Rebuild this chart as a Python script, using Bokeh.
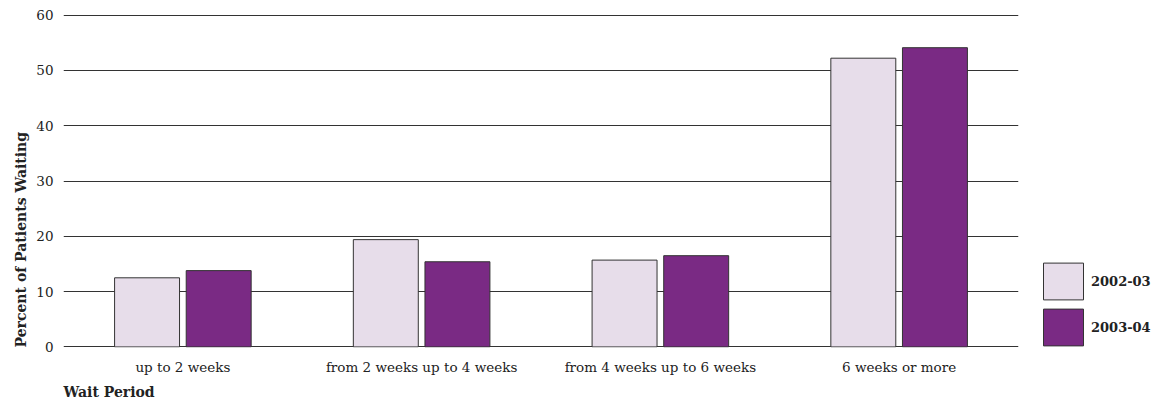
from bokeh.plotting import figure
from bokeh.models import (ColumnDataSource, FactorRange, Range1d, FixedTicker,
                          Legend, LegendItem, Title)
from bokeh.transform import dodge
from bokeh.embed import file_html
from bokeh.resources import INLINE

# Wait-time distribution, percent of patients
categories = ["up to 2 weeks", "from 2 weeks up to 4 weeks",
              "from 4 weeks up to 6 weeks", "6 weeks or more"]
pct_2002_03 = [12.5, 19.4, 15.7, 52.2]
pct_2003_04 = [13.8, 15.4, 16.5, 54.1]
series_names = ["2002-03", "2003-04"]
y_ticks = [0, 10, 20, 30, 40, 50, 60]

FONT = "DejaVu Serif"
LIGHT = "#E7DDEA"
DARK = "#7A2A84"
EDGE = "#333333"
INK = "#222222"

source = ColumnDataSource(data=dict(cat=categories, a=pct_2002_03, b=pct_2003_04))

p = figure(frame_width=955, frame_height=333,
           output_backend="svg", toolbar_location=None,
           x_range=FactorRange(*categories, range_padding=0),
           y_range=Range1d(-0.1, 60.1),
           min_border_left=63, min_border_right=138,
           min_border_top=14, min_border_bottom=57)
p.outline_line_color = None
p.background_fill_color = "white"
p.border_fill_color = "white"

r1 = p.vbar(x=dodge("cat", -0.15, range=p.x_range), top="a", width=0.272,
            source=source, fill_color=LIGHT, line_color=EDGE, line_width=1)
r2 = p.vbar(x=dodge("cat", 0.15, range=p.x_range), top="b", width=0.272,
            source=source, fill_color=DARK, line_color=EDGE, line_width=1)

# axes
p.yaxis.ticker = FixedTicker(ticks=y_ticks)
for ax in (p.xaxis[0], p.yaxis[0]):
    ax.axis_line_color = None
    ax.major_tick_line_color = None
    ax.minor_tick_line_color = None
    ax.major_tick_out = 0
    ax.major_tick_in = 0
    ax.major_label_text_font = FONT
    ax.major_label_text_font_size = "13.5px"
    ax.major_label_text_color = INK
p.yaxis.major_label_standoff = 10
p.xaxis.major_label_standoff = 11

p.xgrid.grid_line_color = None
p.ygrid.ticker = FixedTicker(ticks=y_ticks)
p.ygrid.grid_line_color = "#333333"
p.ygrid.grid_line_width = 1

# axis titles
p.add_layout(Title(text="Percent of Patients Waiting", align="left",
                   text_font=FONT, text_font_style="bold",
                   text_font_size="14px", text_color=INK,
                   standoff=10, offset=0), "left")
p.add_layout(Title(text="Wait Period", align="left",
                   text_font=FONT, text_font_style="bold",
                   text_font_size="14px", text_color=INK,
                   standoff=8, offset=0), "below")

legend = Legend(items=[LegendItem(label=series_names[0], renderers=[r1]),
                       LegendItem(label=series_names[1], renderers=[r2])],
                location=(20, -3), orientation="vertical",
                glyph_width=50, glyph_height=46, spacing=0, padding=0,
                margin=0, label_standoff=3,
                label_text_font=FONT, label_text_font_style="bold",
                label_text_font_size="13px", label_text_color=INK,
                border_line_color=None, background_fill_alpha=0)
p.add_layout(legend, "right")

open("out.html", "w").write(file_html(p, INLINE))
